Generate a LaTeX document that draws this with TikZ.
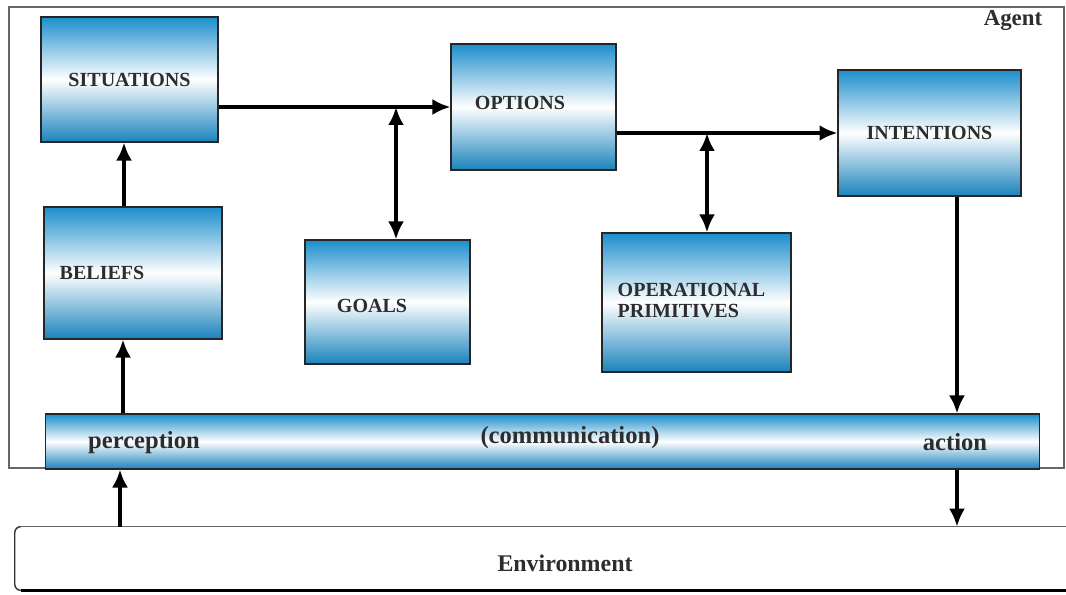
\documentclass[tikz,border=0pt]{standalone}
\usepackage{fontspec}
\setmainfont{Liberation Serif}
\usetikzlibrary{arrows.meta}

\definecolor{boxblue}{RGB}{28,142,204}
\definecolor{txtgray}{RGB}{45,45,45}

\tikzset{
	blk/.style={rectangle,draw=black!85,line width=0.6pt,top color=boxblue,bottom color=boxblue!92!black,middle color=white,font=\bfseries\fontsize{11.4}{12.5}\selectfont,text=txtgray,inner sep=0pt},
	lbl/.style={font=\bfseries\fontsize{11.4}{12.5}\selectfont,text=txtgray,align=left},
	bartxt/.style={font=\bfseries\fontsize{14}{16}\selectfont,text=txtgray},
	arr/.style={line width=2pt,-{Latex[length=0.36cm,width=0.32cm]}},
	darr/.style={line width=2pt,{Latex[length=0.36cm,width=0.32cm]}-{Latex[length=0.36cm,width=0.32cm]}}
}

\begin{document}
\begin{tikzpicture}[x=0.02cm,y=-0.02cm]
	\useasboundingbox (0,0) rectangle (1066,595);
	
	% agent frame
	\draw[black!60,line width=0.6pt] (9,7) rectangle (1064,468);
	\node[font=\bfseries\fontsize{13}{15}\selectfont,text=txtgray] (agent) at (1013,20) {Agent};
	
	% boxes
	\node[blk,minimum width=3.54cm,minimum height=2.5cm] (sit) at (129.5,79.5) {SITUATIONS};
	\node[blk,minimum width=3.56cm,minimum height=2.64cm,label={[lbl,xshift=-0.62cm]center:BELIEFS}] (bel) at (133,273) {};
	\node[blk,minimum width=3.3cm,minimum height=2.52cm,label={[lbl,xshift=-0.27cm,yshift=0.08cm]center:OPTIONS}] (opt) at (533.5,107) {};
	\node[blk,minimum width=3.3cm,minimum height=2.48cm,label={[lbl,xshift=-0.31cm,yshift=-0.08cm]center:GOALS}] (gol) at (387.5,302) {};
	\node[blk,minimum width=3.66cm,minimum height=2.52cm] (int) at (929.5,133) {INTENTIONS};
	\node[blk,minimum width=3.78cm,minimum height=2.78cm,label={[lbl,xshift=-0.1cm,yshift=0.04cm]center:OPERATIONAL\\PRIMITIVES}] (opp) at (696.5,302.5) {};
	
	% perception / action bar
	\node[blk,minimum width=19.9cm,minimum height=1.1cm] (bar) at (542.5,441.5) {};
	\node[bartxt] (per) at (144,443) {perception};
	\node[bartxt] (com) at (570,438) {(communication)};
	\node[bartxt] (act) at (955,442) {action};
	
	% environment
	\node[minimum width=21.02cm,minimum height=1.26cm] (env) at (540.5,558.5) {};
	\node[font=\bfseries\fontsize{13.6}{15}\selectfont,text=txtgray] (envtxt) at (565,563) {Environment};
	\draw[black!60,line width=0.6pt] ([xshift=0.12cm]env.north west) -- (env.north east);
	\draw[black!80,line width=0.8pt] ([xshift=0.12cm]env.north west) to[out=180,in=90] ([yshift=-0.12cm]env.north west) -- ([yshift=0.12cm]env.south west) to[out=-90,in=180] ([xshift=0.12cm]env.south west);
	\draw[black,line width=1.6pt] ([xshift=0.12cm]env.south west) -- (env.south east);
	
	% connectors
	\draw[arr] ([xshift=-0.18cm]bel.north) -- ([xshift=-0.18cm]bel.north |- sit.south);
	\draw[arr] ([xshift=-0.2cm]bel.south |- bar.north) -- ([xshift=-0.2cm]bel.south);
	\draw[arr] ([xshift=-0.26cm]bel.south |- env.north) -- ([xshift=-0.26cm]bel.south |- bar.south);
	\draw[arr] (opt.west -| sit.east) -- (opt.west);
	\draw[darr] ([xshift=0.17cm]gol.north |- opt.west) -- ([xshift=0.17cm]gol.north);
	\draw[arr] (int.west -| opt.east) -- (int.west);
	\draw[darr] ([xshift=0.21cm]opp.north |- int.west) -- ([xshift=0.21cm]opp.north);
	\draw[arr] ([xshift=0.55cm]int.south) -- ([xshift=0.55cm]int.south |- bar.north);
	\draw[arr] ([xshift=0.55cm]int.south |- bar.south) -- ([xshift=0.55cm]int.south |- env.north);
	
\end{tikzpicture}
\end{document}
